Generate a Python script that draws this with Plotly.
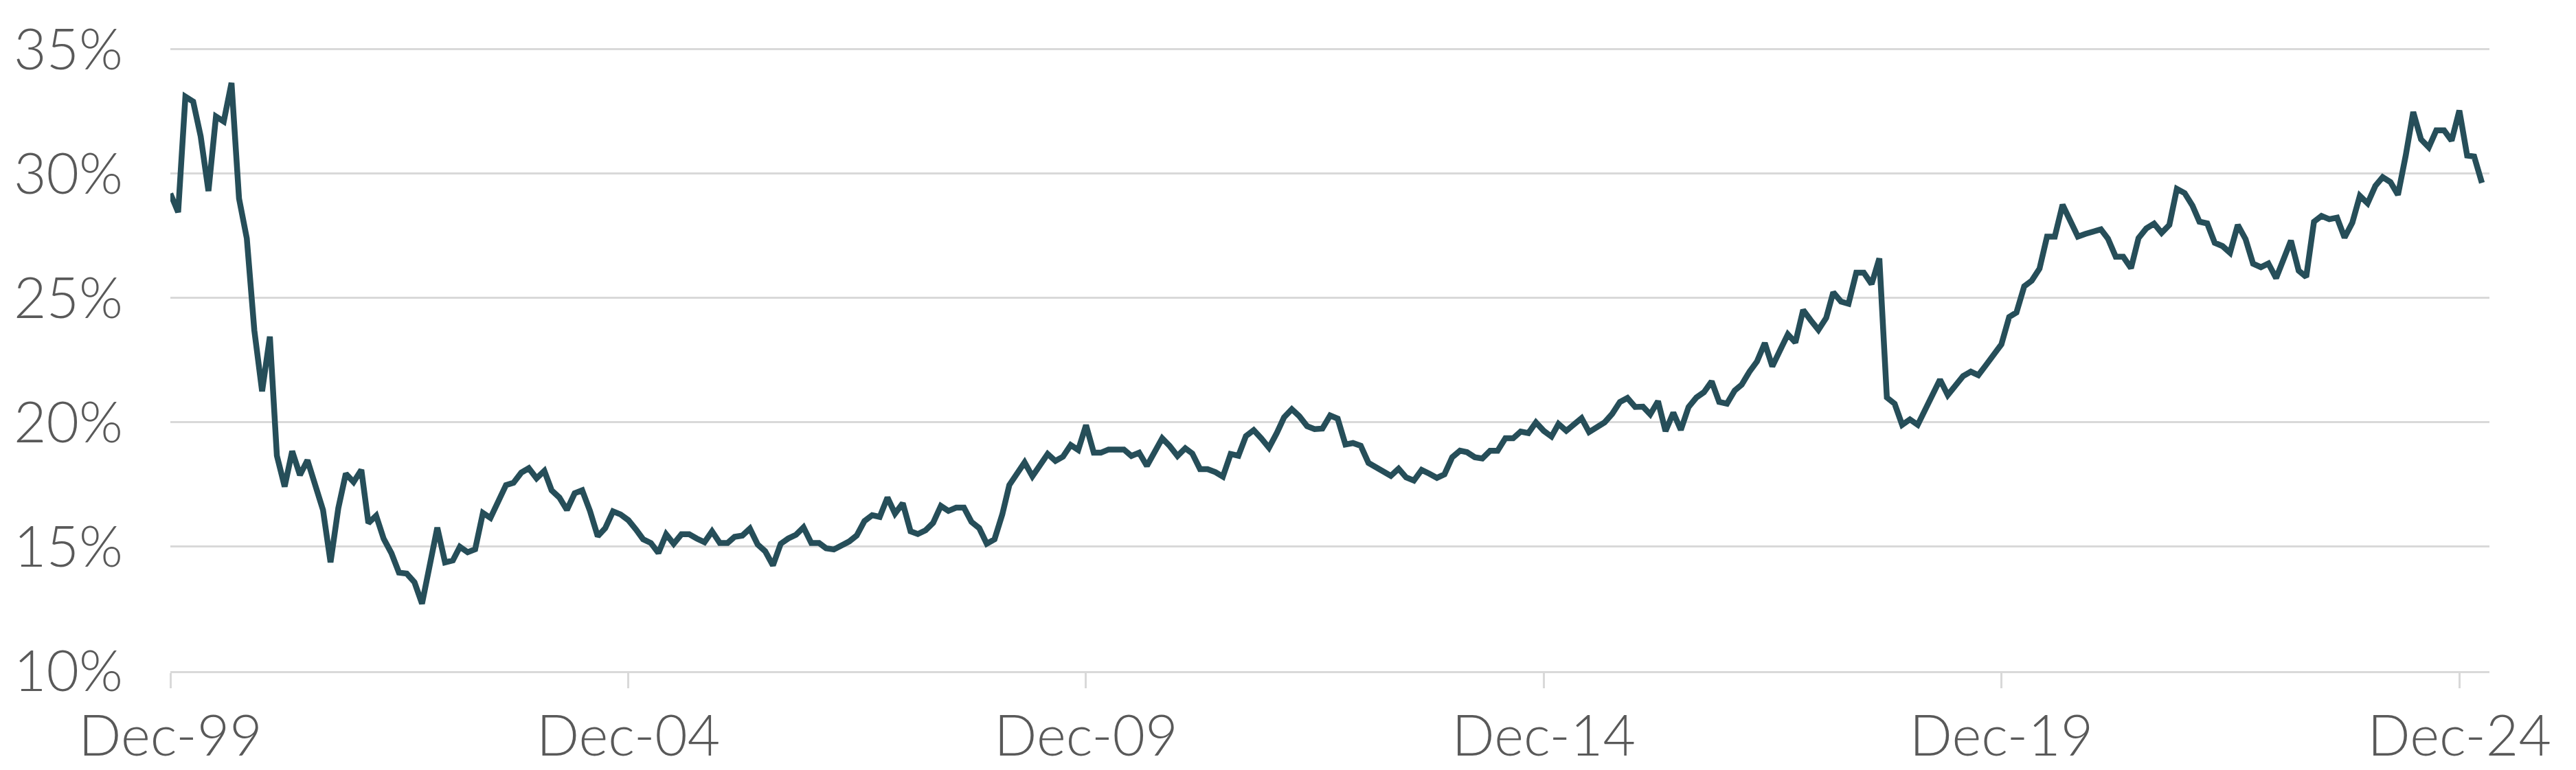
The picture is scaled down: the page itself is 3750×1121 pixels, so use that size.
import pandas as pd
import plotly.graph_objects as go

# monthly values, Dec-99 .. Mar-25 (%)
weights = [
    29.2,  # Dec-99
    28.45, 33.1, 32.9, 31.5, 29.3, 32.3, 32.1, 33.65, 29.0, 27.4, 23.7, 21.25,  # 2000
    23.45, 18.66, 17.42, 18.84, 17.88, 18.48, 17.45, 16.48, 14.37, 16.55, 17.94, 17.6,  # 2001
    18.09, 15.95, 16.25, 15.32, 14.74, 13.96, 13.92, 13.57, 12.71, 14.26, 15.77, 14.37,  # 2002
    14.45, 15.0, 14.78, 14.9, 16.36, 16.16, 16.78, 17.48, 17.57, 17.98, 18.16, 17.75,  # 2003
    18.05, 17.27, 16.98, 16.48, 17.15, 17.27, 16.44, 15.42, 15.75, 16.42, 16.3, 16.07,  # 2004
    15.69, 15.3, 15.15, 14.75, 15.5, 15.12, 15.5, 15.5, 15.33, 15.18, 15.62, 15.15,  # 2005
    15.15, 15.4, 15.45, 15.73, 15.09, 14.82, 14.25, 15.12, 15.33, 15.48, 15.78, 15.15,  # 2006
    15.15, 14.94, 14.89, 15.03, 15.21, 15.45, 16.03, 16.27, 16.2, 16.98, 16.33, 16.75,  # 2007
    15.62, 15.51, 15.66, 15.96, 16.64, 16.44, 16.57, 16.57, 16.0, 15.75, 15.12, 15.3,  # 2008
    16.3, 17.48, 17.98, 18.39, 17.83, 18.3, 18.73, 18.45, 18.62, 19.09, 18.89, 19.89,  # 2009
    18.78, 18.78, 18.91, 18.91, 18.91, 18.65, 18.78, 18.25, 18.82, 19.36, 19.05, 18.65,  # 2010
    18.96, 18.75, 18.12, 18.12, 18.0, 17.82, 18.73, 18.66, 19.45, 19.69, 19.36, 18.98,  # 2011
    19.57, 20.2, 20.53, 20.25, 19.85, 19.73, 19.75, 20.28, 20.15, 19.11, 19.17, 19.06,  # 2012
    18.37, 18.19, 18.0, 17.85, 18.14, 17.79, 17.66, 18.09, 17.94, 17.77, 17.91, 18.6,  # 2013
    18.86, 18.8, 18.6, 18.55, 18.86, 18.86, 19.36, 19.36, 19.63, 19.57, 20.0, 19.66,  # 2014
    19.43, 19.94, 19.66, 19.94, 20.17, 19.61, 19.82, 20.0, 20.34, 20.82, 20.98, 20.62,  # 2015
    20.63, 20.32, 20.85, 19.65, 20.39, 19.7, 20.62, 21.0, 21.21, 21.65, 20.82, 20.75,  # 2016
    21.28, 21.52, 22.04, 22.45, 23.19, 22.25, 22.9, 23.54, 23.21, 24.52, 24.11, 23.72,  # 2017
    24.2, 25.23, 24.86, 24.77, 26.02, 26.02, 25.56, 26.59, 21.0, 20.75, 19.9, 20.12,  # 2018
    19.9, 20.5, 21.1, 21.72, 21.1, 21.49, 21.86, 22.04, 21.9, 22.31, 22.77, 23.14,  # 2019
    24.24, 24.42, 25.47, 25.7, 26.18, 27.47, 27.47, 28.75, 28.12, 27.47, 27.58, 27.65,  # 2020
    27.76, 27.39, 26.66, 26.66, 26.2, 27.41, 27.8, 27.99, 27.62, 27.94, 29.39, 29.22,  # 2021
    28.72, 28.07, 28.0, 27.22, 27.09, 26.82, 27.94, 27.37, 26.38, 26.24, 26.39, 25.8,  # 2022
    26.56, 27.31, 26.1, 25.85, 28.07, 28.3, 28.17, 28.23, 27.43, 28.03, 29.11, 28.81,  # 2023
    29.51, 29.86, 29.66, 29.15, 30.73, 32.48, 31.38, 31.06, 31.74, 31.74, 31.33, 32.54,  # 2024
    30.73, 30.69, 29.63,  # 2025
]
dates = pd.date_range("1999-12-31", periods=len(weights), freq="ME")

x_tick_dates = ["1999-12-31", "2004-12-31", "2009-12-31", "2014-12-31", "2019-12-31", "2024-12-31"]
x_tick_labels = ["Dec-99", "Dec-04", "Dec-09", "Dec-14", "Dec-19", "Dec-24"]
y_ticks = [10, 15, 20, 25, 30, 35]
y_tick_labels = ["10%", "15%", "20%", "25%", "30%", "35%"]

grid_col = "#D9D9D9"
text_col = "#595959"

fig = go.Figure()
fig.add_trace(go.Scatter(
    x=dates, y=weights, mode="lines",
    line=dict(color="#264E59", width=8.5),
    showlegend=False,
))

fig.update_layout(
    width=3750, height=1121,
    paper_bgcolor="white", plot_bgcolor="white",
    margin=dict(l=228, r=134, t=62, b=142),
    font=dict(family="Lato, Open Sans, sans-serif", size=82, color=text_col, weight=300),
)
fig.update_xaxes(
    range=["1999-12-31", "2025-04-30"],
    tickvals=x_tick_dates, ticktext=x_tick_labels,
    showgrid=False, zeroline=False,
    showline=True, linecolor=grid_col, linewidth=3,
    ticks="outside", ticklen=22, tickwidth=3, tickcolor=grid_col,
)
fig.update_yaxes(
    range=[10, 35.05],
    tickvals=y_ticks, ticktext=y_tick_labels,
    showgrid=True, gridcolor=grid_col, gridwidth=3,
    zeroline=False, showline=False,
    ticks="", ticklabelstandoff=68,
)

fig.write_html("out.html")
